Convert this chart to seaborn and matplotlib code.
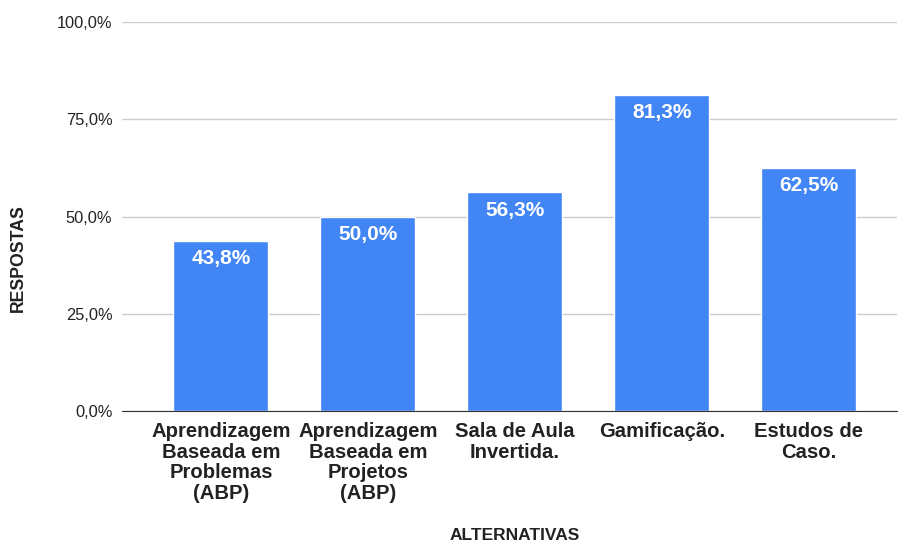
import matplotlib
matplotlib.use("Agg")
import matplotlib.pyplot as plt
import seaborn as sns
import pandas as pd

categories = ["Aprendizagem\nBaseada em\nProblemas\n(ABP)",
              "Aprendizagem\nBaseada em\nProjetos\n(ABP)",
              "Sala de Aula\nInvertida.",
              "Gamificação.",
              "Estudos de\nCaso."]
values = [43.8, 50.0, 56.3, 81.3, 62.5]
yticks = [0, 25, 50, 75, 100]

df = pd.DataFrame({"alt": categories, "pct": values})

sns.set_style("white")
plt.rcParams['font.family'] = ['Liberation Sans', 'DejaVu Sans']

fig = plt.figure(figsize=(8.98, 5.43), dpi=100)
ax = fig.add_axes([122/898, 132/543, 775/898, 389/543])

sns.barplot(data=df, x="alt", y="pct", color="#4285F4", width=0.646,
            saturation=1, ax=ax, zorder=3)

ax.set_xlim(-0.673, 4.6)
ax.set_ylim(0, 100)
ax.set_yticks(yticks)
ax.set_yticklabels([f"{v:.1f}%".replace(".", ",") for v in yticks], fontsize=11.8, color="#222222")
ax.yaxis.grid(True, color="#cccccc", linewidth=1, zorder=0)
ax.tick_params(axis="both", length=0, pad=7)
ax.tick_params(axis="x", pad=8)
for lbl in ax.get_xticklabels():
    lbl.set_fontweight("bold")
    lbl.set_fontsize(14.6)
    lbl.set_color("#222222")
    lbl.set_linespacing(1.1)

for s in ["top", "right", "left"]:
    ax.spines[s].set_visible(False)
ax.spines["bottom"].set_color("#333333")
ax.spines["bottom"].set_zorder(4)

for i, v in enumerate(values):
    ax.annotate(f"{v:.1f}%".replace(".", ","), (i, v), xytext=(0, -13),
                textcoords="offset points", ha="center", va="center",
                color="white", fontweight="bold", fontsize=15, zorder=5)

ax.set_xlabel("")
ax.set_ylabel("")
fig.text(18/898, 1 - 258/543, "RESPOSTAS", rotation=90, ha="center", va="center",
         fontweight="bold", fontsize=12.7, color="#222222")
fig.text(515/898, 1 - 535/543, "ALTERNATIVAS", ha="center", va="center",
         fontweight="bold", fontsize=12.5, color="#222222")

fig.savefig("out.png", dpi=100)
